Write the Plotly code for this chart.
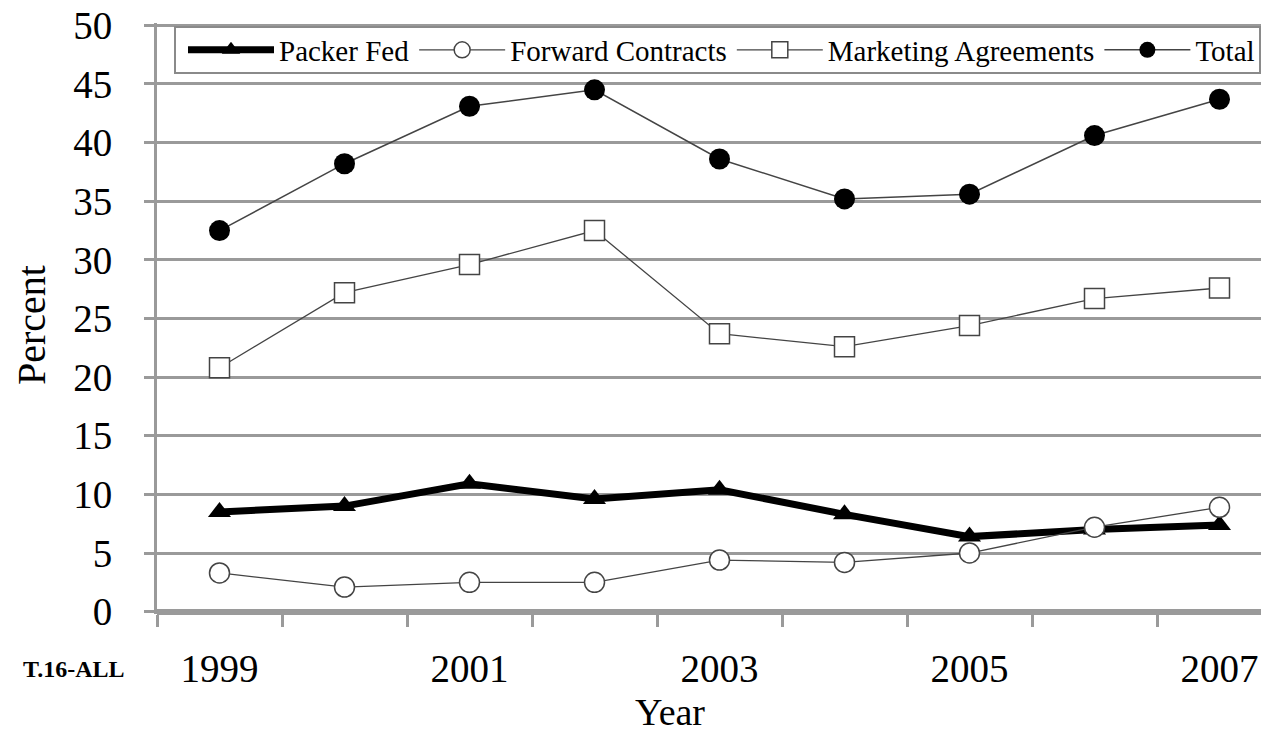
"""Captive supply shares by year, recreated with plotly."""

import plotly.graph_objects as go

YEARS = [1999, 2000, 2001, 2002, 2003, 2004, 2005, 2006, 2007]
PACKER_FED = [8.5, 9.0, 10.9, 9.6, 10.4, 8.3, 6.4, 7.0, 7.4]
FORWARD_CONTRACTS = [3.3, 2.1, 2.5, 2.5, 4.4, 4.2, 5.0, 7.2, 8.9]
MARKETING_AGREEMENTS = [20.8, 27.2, 29.6, 32.5, 23.7, 22.6, 24.4, 26.7, 27.6]
TOTAL = [32.5, 38.2, 43.1, 44.5, 38.6, 35.2, 35.6, 40.6, 43.7]

LABEL_YEARS = [1999, 2001, 2003, 2005, 2007]
Y_TICKS = list(range(0, 51, 5))

FONT = '"Liberation Serif", "Times New Roman", serif'
GRID = "#9a9a9a"
DARK = "#444444"

# the page body has an 8px margin, so the figure is 8px smaller than the window
W, H = 1261, 724
L, T, B = 149, 15, 118
PW, PH = W - L, H - T - B


def px(x):
    return (x - L) / PW


def py(y):
    return 1 - (y - T) / PH


fig = go.Figure()
fig.add_trace(go.Scatter(
    x=YEARS, y=PACKER_FED, name="Packer Fed", mode="lines+markers",
    line=dict(color="black", width=7),
    marker=dict(symbol="triangle-up", size=20, color="black"),
))
fig.add_trace(go.Scatter(
    x=YEARS, y=FORWARD_CONTRACTS, name="Forward Contracts", mode="lines+markers",
    line=dict(color=DARK, width=1.3),
    marker=dict(symbol="circle", size=20, color="white", line=dict(color=DARK, width=1.5)),
))
fig.add_trace(go.Scatter(
    x=YEARS, y=MARKETING_AGREEMENTS, name="Marketing Agreements", mode="lines+markers",
    line=dict(color=DARK, width=1.3),
    marker=dict(symbol="square", size=20, color="white", line=dict(color=DARK, width=1.5)),
))
fig.add_trace(go.Scatter(
    x=YEARS, y=TOTAL, name="Total", mode="lines+markers",
    line=dict(color=DARK, width=1.5),
    marker=dict(symbol="circle", size=21, color="black"),
))

# legend frame drawn as a shape so the entries can sit with some padding inside
fig.add_shape(
    type="rect", xref="paper", yref="paper",
    x0=px(167), x1=px(1252), y0=py(65), y1=py(19),
    fillcolor="white", line=dict(color="#8a8a8a", width=2), layer="above",
)

fig.update_layout(
    width=W, height=H,
    margin=dict(l=L, r=0, t=T, b=B, autoexpand=False),
    paper_bgcolor="white", plot_bgcolor="white",
    font=dict(family=FONT, size=39, color="black"),
    showlegend=True,
    legend=dict(
        orientation="h", x=px(175), xanchor="left", y=py(42), yanchor="middle",
        bgcolor="rgba(0,0,0,0)", borderwidth=0,
        font=dict(family=FONT, size=29, color="black"), itemwidth=86,
    ),
)
fig.update_xaxes(
    range=[1998.5, 1998.5 + PW / 125], automargin=False,
    tickmode="array", tickvals=LABEL_YEARS, ticktext=[str(y) for y in LABEL_YEARS],
    tickfont=dict(family=FONT, size=39, color="black"),
    ticks="", showgrid=False, showline=False, zeroline=False,
    ticklabelstandoff=28, ticklabeloverflow="allow",
    minor=dict(
        tickmode="array", tickvals=[y - 0.5 for y in YEARS] + [YEARS[-1] + 0.5],
        ticks="outside", ticklen=12, tickwidth=3, tickcolor=GRID, showgrid=False,
    ),
)
fig.update_yaxes(
    range=[-0.2, 50.2], tickmode="array", tickvals=Y_TICKS, automargin=False,
    tickfont=dict(family=FONT, size=39, color="black"),
    showgrid=True, gridcolor=GRID, gridwidth=3,
    zeroline=True, zerolinecolor=GRID, zerolinewidth=6,
    showline=True, linecolor=GRID, linewidth=3,
    ticks="outside", ticklen=10, tickwidth=3, tickcolor=GRID,
    ticklabelstandoff=24, ticklabeloverflow="allow",
)

fig.add_annotation(
    text="Percent", xref="paper", yref="paper", x=px(23), y=py(317),
    xanchor="center", yanchor="middle",
    textangle=-90, showarrow=False, font=dict(family=FONT, size=40),
)
fig.add_annotation(
    text="Year", xref="paper", yref="paper", x=px(662), y=py(704),
    xanchor="center", yanchor="middle",
    showarrow=False, font=dict(family=FONT, size=38),
)
fig.add_annotation(
    text="<b>T.16-ALL</b>", xref="paper", yref="paper", x=px(66), y=py(661),
    xanchor="center", yanchor="middle",
    showarrow=False, font=dict(family=FONT, size=24),
)

fig.write_html("out.html")
